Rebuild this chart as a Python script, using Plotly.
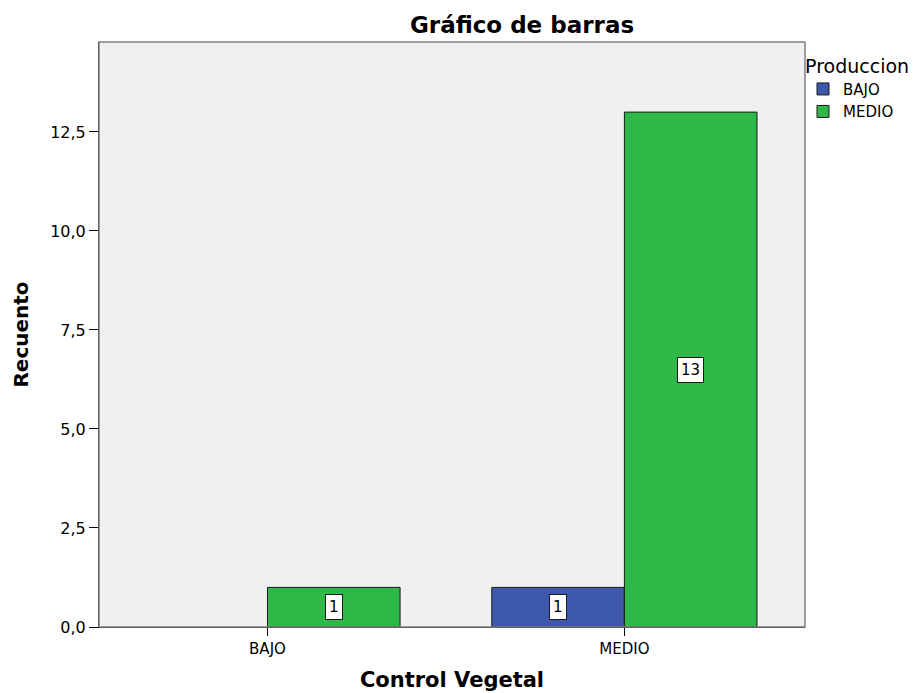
import plotly.graph_objects as go

categories = ["BAJO", "MEDIO"]
series_names = ["BAJO", "MEDIO"]
bajo_counts = [0, 1]
medio_counts = [1, 13]
y_ticks = [0, 2.5, 5, 7.5, 10, 12.5]

colors = {"BAJO": "#3E58AC", "MEDIO": "#2EB848"}
series_values = {"BAJO": bajo_counts, "MEDIO": medio_counts}

FONT = "DejaVu Sans, Liberation Sans, Arial"

fig = go.Figure()
for name in series_names:
    vals = series_values[name]
    fig.add_trace(go.Bar(
        x=categories, y=[v if v else None for v in vals], name=name,
        marker=dict(color=colors[name], line=dict(color="#1a1a1a", width=1)),
    ))

bargap = 0.257
half = (1 - bargap) / 4
for si, name in enumerate(series_names):
    off = -half if si == 0 else half
    for ci, v in enumerate(series_values[name]):
        if v:
            fig.add_annotation(
                x=ci + off, y=v / 2, xref="x", yref="y", text=str(v),
                showarrow=False, bgcolor="white", bordercolor="#1a1a1a",
                borderwidth=1, borderpad=3,
                font=dict(family=FONT, size=15, color="black"),
            )

# the page body adds an 8px offset; margins compensate for it
fig.update_layout(
    width=918, height=693,
    margin=dict(l=89, r=121, t=34, b=74),
    paper_bgcolor="white", plot_bgcolor="#F0F0F0",
    barmode="group", bargap=bargap, bargroupgap=0,
    separators=",.",
    font=dict(family=FONT, size=15, color="black"),
    title=dict(text="<b>Gráfico de barras</b>", x=514 / 918, xanchor="center",
               y=1 - 17 / 693, yanchor="middle",
               font=dict(family=FONT, size=23, color="black")),
    legend=dict(
        title=dict(text="Produccion", font=dict(family=FONT, size=19)),
        x=1 - 2 / 708, xanchor="left", y=1 - 6 / 585, yanchor="top",
        font=dict(family=FONT, size=15), bgcolor="rgba(0,0,0,0)",
        itemwidth=30, tracegroupgap=0,
    ),
    showlegend=True,
)
fig.update_xaxes(
    type="category", range=[-0.472, 1.506],
    showline=True, linecolor="black", linewidth=1,
    ticks="outside", ticklen=8, tickcolor="black",
    showgrid=False, zeroline=False,
    tickfont=dict(family=FONT, size=15),
    title=dict(text="<b>Control Vegetal</b>", font=dict(family=FONT, size=21), standoff=15),
)
fig.update_yaxes(
    range=[0, 14.77], tickvals=y_ticks, tickformat=".1f",
    showline=True, linecolor="black", linewidth=1,
    ticks="outside", ticklen=9, tickcolor="black",
    showgrid=False, zeroline=False,
    tickfont=dict(family=FONT, size=16),
    title=dict(text="<b>Recuento</b>", font=dict(family=FONT, size=20), standoff=16),
)
fig.add_shape(type="rect", xref="paper", yref="paper", x0=0, y0=0, x1=1, y1=1,
              line=dict(color="#808080", width=1.5), layer="above")

fig.write_html("out.html")
